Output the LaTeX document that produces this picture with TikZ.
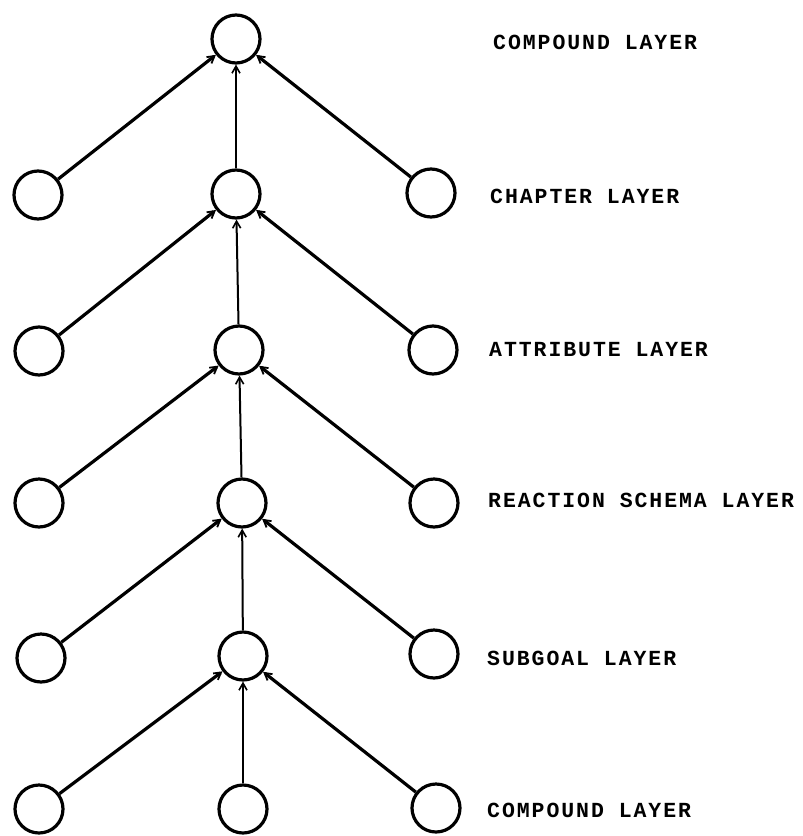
\documentclass[tikz,border=0pt]{standalone}
\usepackage{fontspec}
\newfontfamily\labelfont[LetterSpace=9]{Liberation Mono}
\usetikzlibrary{arrows.meta}
\begin{document}
\begin{tikzpicture}[x=1pt,y=-1pt,
  unit/.style={circle,draw,line width=3.2pt,minimum size=48pt,inner sep=0pt},
  link/.style={line width=3.2pt,-{Straight Barb[length=7pt,width=8pt,line width=1.8pt]}},
  vlink/.style={line width=2pt,-{Straight Barb[length=7pt,width=8pt,line width=1.6pt]}},
  layer/.style={anchor=west,inner sep=0pt,font=\labelfont\bfseries\fontsize{21.5}{24}\selectfont}]
\useasboundingbox (0,0) rectangle (803,836);
% central column
\node[unit] (c0) at (236,39) {};
\node[unit] (c1) at (236,194) {};
\node[unit] (c2) at (239,350) {};
\node[unit] (c3) at (242,503) {};
\node[unit] (c4) at (243,656) {};
\node[unit] (c5) at (243,809) {};
% left column
\node[unit] (l1) at (38,195) {};
\node[unit] (l2) at (39,351) {};
\node[unit] (l3) at (39,503) {};
\node[unit] (l4) at (41,658) {};
\node[unit] (l5) at (39,809) {};
% right column
\node[unit] (r1) at (431,193) {};
\node[unit] (r2) at (433,350) {};
\node[unit] (r3) at (434,503) {};
\node[unit] (r4) at (434,654) {};
\node[unit] (r5) at (436,808) {};
% connectors
\foreach \u/\d in {0/1,1/2,2/3,3/4,4/5}{
  \draw[link] (l\d) -- (c\u);
  \draw[link] (r\d) -- (c\u);
  \draw[vlink] (c\d) -- (c\u);
}
% labels
\node[layer] (t0) at (493,42) {COMPOUND LAYER};
\node[layer] (t1) at (490,196) {CHAPTER LAYER};
\node[layer] (t2) at (489,350) {ATTRIBUTE LAYER};
\node[layer] (t3) at (488,500) {REACTION SCHEMA LAYER};
\node[layer] (t4) at (487,658) {SUBGOAL LAYER};
\node[layer] (t5) at (487,810) {COMPOUND LAYER};
\end{tikzpicture}
\end{document}
